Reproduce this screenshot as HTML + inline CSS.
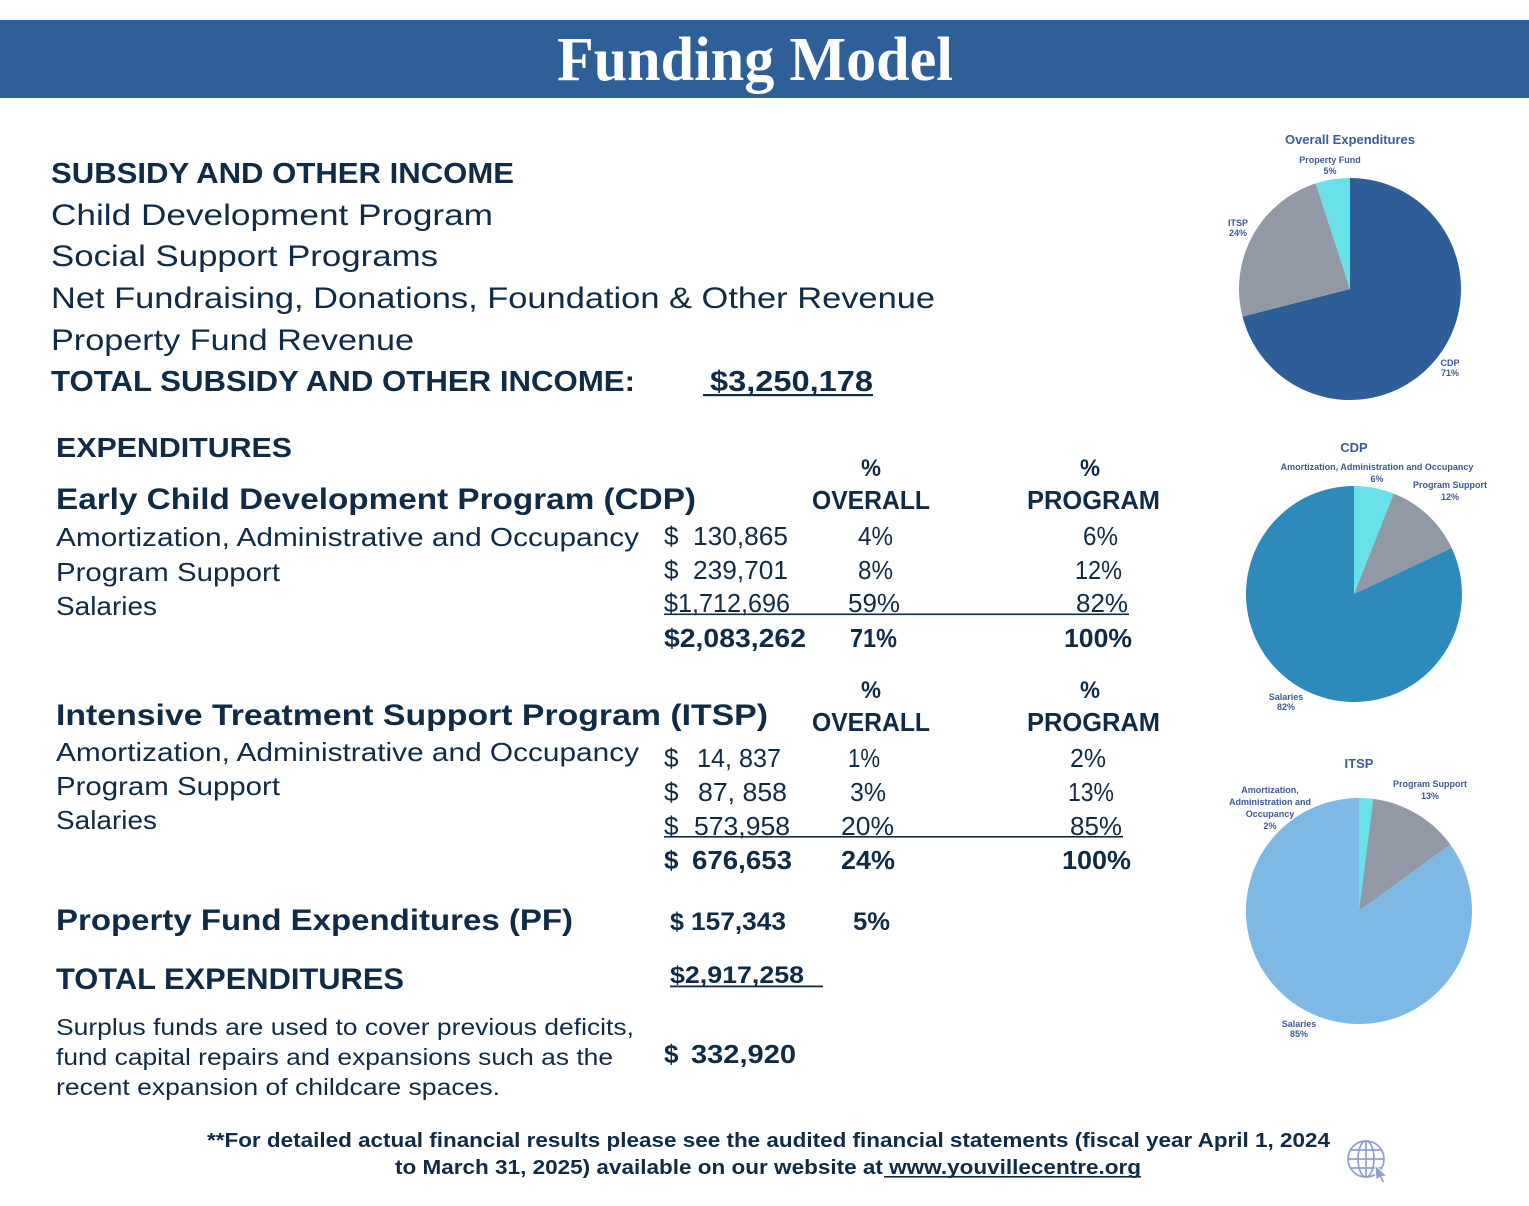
<!DOCTYPE html>
<html>
<head>
<meta charset="utf-8">
<style>
html,body{margin:0;padding:0;background:#fff;}
svg{display:block;}
.t{font-family:"Liberation Sans",Arial,sans-serif;fill:#0f2b46;}
.b{font-weight:bold;}
.lbl{font-family:"Liberation Sans",Arial,sans-serif;font-weight:bold;fill:#3b5b94;font-size:9px;text-anchor:middle;}
.ttl{font-family:"Liberation Sans",Arial,sans-serif;font-weight:bold;fill:#3b5b94;font-size:13px;text-anchor:middle;}
</style>
</head>
<body>
<svg width="1529" height="1206" viewBox="0 0 1529 1206" xmlns="http://www.w3.org/2000/svg">
<rect x="0" y="0" width="1529" height="1206" fill="#ffffff"/>
<!-- header -->
<rect x="0" y="20" width="1529" height="78" fill="#2e5f98"/>
<text x="557" y="80" font-family="Liberation Serif, serif" font-weight="bold" font-size="62" fill="#ffffff" textLength="396" lengthAdjust="spacingAndGlyphs">Funding Model</text>

<!-- income -->
<text class="t b" x="51" y="183" font-size="29" textLength="463" lengthAdjust="spacingAndGlyphs">SUBSIDY AND OTHER INCOME</text>
<text class="t" x="51" y="225" font-size="30" textLength="442" lengthAdjust="spacingAndGlyphs">Child Development Program</text>
<text class="t" x="51" y="266" font-size="30" textLength="387" lengthAdjust="spacingAndGlyphs">Social Support Programs</text>
<text class="t" x="51" y="308" font-size="30" textLength="884" lengthAdjust="spacingAndGlyphs">Net Fundraising, Donations, Foundation &amp; Other Revenue</text>
<text class="t" x="51" y="350" font-size="30" textLength="363" lengthAdjust="spacingAndGlyphs">Property Fund Revenue</text>
<text class="t b" x="51" y="391" font-size="29" textLength="584" lengthAdjust="spacingAndGlyphs">TOTAL SUBSIDY AND OTHER INCOME:</text>
<text class="t b" x="710" y="391" font-size="29" textLength="163" lengthAdjust="spacingAndGlyphs">$3,250,178</text>
<rect x="703" y="394" width="170" height="2.2" fill="#0f2b46"/>

<!-- expenditures -->
<text class="t b" x="56" y="457" font-size="28" textLength="236" lengthAdjust="spacingAndGlyphs">EXPENDITURES</text>
<text class="t b" x="861" y="476" font-size="24" textLength="20" lengthAdjust="spacingAndGlyphs">%</text>
<text class="t b" x="1080" y="476" font-size="24" textLength="20" lengthAdjust="spacingAndGlyphs">%</text>
<text class="t b" x="56" y="509" font-size="30" textLength="640" lengthAdjust="spacingAndGlyphs">Early Child Development Program (CDP)</text>
<text class="t b" x="812" y="509" font-size="26" textLength="118" lengthAdjust="spacingAndGlyphs">OVERALL</text>
<text class="t b" x="1027" y="509" font-size="26" textLength="133" lengthAdjust="spacingAndGlyphs">PROGRAM</text>

<text class="t" x="56" y="546" font-size="26" textLength="583" lengthAdjust="spacingAndGlyphs">Amortization, Administrative and Occupancy</text>
<text class="t" x="664" y="545" font-size="26">$</text>
<text class="t" x="693" y="545" font-size="26" textLength="95" lengthAdjust="spacingAndGlyphs">130,865</text>
<text class="t" x="858" y="545" font-size="26" textLength="35" lengthAdjust="spacingAndGlyphs">4%</text>
<text class="t" x="1083" y="545" font-size="26" textLength="35" lengthAdjust="spacingAndGlyphs">6%</text>

<text class="t" x="56" y="581" font-size="26" textLength="224" lengthAdjust="spacingAndGlyphs">Program Support</text>
<text class="t" x="664" y="579" font-size="26">$</text>
<text class="t" x="693" y="579" font-size="26" textLength="95" lengthAdjust="spacingAndGlyphs">239,701</text>
<text class="t" x="858" y="579" font-size="26" textLength="35" lengthAdjust="spacingAndGlyphs">8%</text>
<text class="t" x="1075" y="579" font-size="26" textLength="47" lengthAdjust="spacingAndGlyphs">12%</text>

<text class="t" x="56" y="615" font-size="26" textLength="101" lengthAdjust="spacingAndGlyphs">Salaries</text>
<text class="t" x="664" y="612" font-size="26" textLength="126" lengthAdjust="spacingAndGlyphs">$1,712,696</text>
<text class="t" x="848" y="612" font-size="26" textLength="52" lengthAdjust="spacingAndGlyphs">59%</text>
<text class="t" x="1076" y="612" font-size="26" textLength="52" lengthAdjust="spacingAndGlyphs">82%</text>
<rect x="664" y="613.5" width="465" height="1.6" fill="#0f2b46"/>

<text class="t b" x="664" y="647" font-size="26" textLength="142" lengthAdjust="spacingAndGlyphs">$2,083,262</text>
<text class="t b" x="850" y="647" font-size="26" textLength="47" lengthAdjust="spacingAndGlyphs">71%</text>
<text class="t b" x="1064" y="647" font-size="26" textLength="68" lengthAdjust="spacingAndGlyphs">100%</text>

<!-- ITSP -->
<text class="t b" x="861" y="698" font-size="24" textLength="20" lengthAdjust="spacingAndGlyphs">%</text>
<text class="t b" x="1080" y="698" font-size="24" textLength="20" lengthAdjust="spacingAndGlyphs">%</text>
<text class="t b" x="56" y="725" font-size="30" textLength="712" lengthAdjust="spacingAndGlyphs">Intensive Treatment Support Program (ITSP)</text>
<text class="t b" x="812" y="731" font-size="26" textLength="118" lengthAdjust="spacingAndGlyphs">OVERALL</text>
<text class="t b" x="1027" y="731" font-size="26" textLength="133" lengthAdjust="spacingAndGlyphs">PROGRAM</text>

<text class="t" x="56" y="761" font-size="26" textLength="583" lengthAdjust="spacingAndGlyphs">Amortization, Administrative and Occupancy</text>
<text class="t" x="664" y="767" font-size="26">$</text>
<text class="t" x="697" y="767" font-size="26" textLength="84" lengthAdjust="spacingAndGlyphs">14, 837</text>
<text class="t" x="848" y="767" font-size="26" textLength="32" lengthAdjust="spacingAndGlyphs">1%</text>
<text class="t" x="1070" y="767" font-size="26" textLength="36" lengthAdjust="spacingAndGlyphs">2%</text>

<text class="t" x="56" y="795" font-size="26" textLength="224" lengthAdjust="spacingAndGlyphs">Program Support</text>
<text class="t" x="664" y="801" font-size="26">$</text>
<text class="t" x="698" y="801" font-size="26" textLength="89" lengthAdjust="spacingAndGlyphs">87, 858</text>
<text class="t" x="850" y="801" font-size="26" textLength="36" lengthAdjust="spacingAndGlyphs">3%</text>
<text class="t" x="1068" y="801" font-size="26" textLength="46" lengthAdjust="spacingAndGlyphs">13%</text>

<text class="t" x="56" y="829" font-size="26" textLength="101" lengthAdjust="spacingAndGlyphs">Salaries</text>
<text class="t" x="664" y="835" font-size="26">$</text>
<text class="t" x="694" y="835" font-size="26" textLength="96" lengthAdjust="spacingAndGlyphs">573,958</text>
<text class="t" x="841" y="835" font-size="26" textLength="53" lengthAdjust="spacingAndGlyphs">20%</text>
<text class="t" x="1070" y="835" font-size="26" textLength="52" lengthAdjust="spacingAndGlyphs">85%</text>
<rect x="664" y="836" width="459" height="1.6" fill="#0f2b46"/>

<text class="t b" x="664" y="869" font-size="26">$</text>
<text class="t b" x="692" y="869" font-size="26" textLength="100" lengthAdjust="spacingAndGlyphs">676,653</text>
<text class="t b" x="841" y="869" font-size="26" textLength="54" lengthAdjust="spacingAndGlyphs">24%</text>
<text class="t b" x="1062" y="869" font-size="26" textLength="69" lengthAdjust="spacingAndGlyphs">100%</text>

<!-- PF -->
<text class="t b" x="56" y="930" font-size="30" textLength="517" lengthAdjust="spacingAndGlyphs">Property Fund Expenditures (PF)</text>
<text class="t b" x="670" y="930" font-size="25">$</text>
<text class="t b" x="691" y="930" font-size="25" textLength="95" lengthAdjust="spacingAndGlyphs">157,343</text>
<text class="t b" x="853" y="930" font-size="25" textLength="37" lengthAdjust="spacingAndGlyphs">5%</text>

<text class="t b" x="56" y="989" font-size="30" textLength="348" lengthAdjust="spacingAndGlyphs">TOTAL EXPENDITURES</text>
<text class="t b" x="670" y="983" font-size="24" textLength="134" lengthAdjust="spacingAndGlyphs">$2,917,258</text>
<rect x="670" y="985.5" width="153" height="1.8" fill="#0f2b46"/>

<text class="t" x="56" y="1035" font-size="23" textLength="578" lengthAdjust="spacingAndGlyphs">Surplus funds are used to cover previous deficits,</text>
<text class="t" x="56" y="1065" font-size="23" textLength="557" lengthAdjust="spacingAndGlyphs">fund capital repairs and expansions such as the</text>
<text class="t" x="56" y="1095" font-size="23" textLength="444" lengthAdjust="spacingAndGlyphs">recent expansion of childcare spaces.</text>
<text class="t b" x="664" y="1063" font-size="26">$</text>
<text class="t b" x="691" y="1063" font-size="26" textLength="105" lengthAdjust="spacingAndGlyphs">332,920</text>

<!-- footer -->
<text class="t b" x="207" y="1147" font-size="20" textLength="1123" lengthAdjust="spacingAndGlyphs">**For detailed actual financial results please see the audited financial statements (fiscal year April 1, 2024</text>
<text class="t b" x="395" y="1174" font-size="20" textLength="746" lengthAdjust="spacingAndGlyphs">to March 31, 2025) available on our website at www.youvillecentre.org</text>
<rect x="884" y="1176" width="257" height="1.6" fill="#0f2b46"/>

<!-- globe icon -->
<g fill="none" stroke="#8fa0c8" stroke-width="1.7">
  <circle cx="1366" cy="1159" r="18"/>
  <ellipse cx="1366" cy="1159" rx="8" ry="18"/>
  <line x1="1366" y1="1141" x2="1366" y2="1177"/>
  <line x1="1348" y1="1159" x2="1384" y2="1159"/>
  <path d="M1351 1150 H1381 M1351 1168 H1381"/>
</g>
<path d="M1375 1165 L1387 1176 L1382 1176.5 L1385 1182 L1382.5 1183 L1379.5 1177.5 L1376 1180 Z" fill="#8fa0c8" stroke="#ffffff" stroke-width="1"/>

<!-- pie 1 -->
<text class="ttl" x="1350" y="144">Overall Expenditures</text>
<path d="M1350,289 L1350,178 A111,111 0 1 1 1242.5,316.6 Z" fill="#2d5e98"/>
<path d="M1350,289 L1242.5,316.6 A111,111 0 0 1 1315.7,183.4 Z" fill="#9199a6"/>
<path d="M1350,289 L1315.7,183.4 A111,111 0 0 1 1350,178 Z" fill="#68e1e8"/>
<text class="lbl" x="1330" y="163">Property Fund</text>
<text class="lbl" x="1330" y="174">5%</text>
<text class="lbl" x="1238" y="226">ITSP</text>
<text class="lbl" x="1238" y="236">24%</text>
<text class="lbl" x="1450" y="366">CDP</text>
<text class="lbl" x="1450" y="376">71%</text>

<!-- pie 2 -->
<text class="ttl" x="1354" y="452">CDP</text>
<path d="M1354,594 L1354,486 A108,108 0 0 1 1393.8,493.6 Z" fill="#68e1e8"/>
<path d="M1354,594 L1393.8,493.6 A108,108 0 0 1 1451.7,548 Z" fill="#9199a6"/>
<path d="M1354,594 L1451.7,548 A108,108 0 1 1 1354,486 Z" fill="#2d8aba"/>
<text class="lbl" x="1377" y="470" font-size="8.5">Amortization, Administration and Occupancy</text>
<text class="lbl" x="1377" y="482">6%</text>
<text class="lbl" x="1450" y="488">Program Support</text>
<text class="lbl" x="1450" y="500">12%</text>
<text class="lbl" x="1286" y="700">Salaries</text>
<text class="lbl" x="1286" y="710">82%</text>

<!-- pie 3 -->
<text class="ttl" x="1359" y="768">ITSP</text>
<path d="M1359,911 L1359,798 A113,113 0 0 1 1373.2,798.9 Z" fill="#68e1e8"/>
<path d="M1359,911 L1373.2,798.9 A113,113 0 0 1 1450.4,844.6 Z" fill="#9199a6"/>
<path d="M1359,911 L1450.4,844.6 A113,113 0 1 1 1359,798 Z" fill="#7eb9e6"/>
<text class="lbl" x="1430" y="787">Program Support</text>
<text class="lbl" x="1430" y="799">13%</text>
<text class="lbl" x="1270" y="793">Amortization,</text>
<text class="lbl" x="1270" y="805">Administration and</text>
<text class="lbl" x="1270" y="817">Occupancy</text>
<text class="lbl" x="1270" y="829">2%</text>
<text class="lbl" x="1299" y="1027">Salaries</text>
<text class="lbl" x="1299" y="1037">85%</text>
</svg>
</body>
</html>
